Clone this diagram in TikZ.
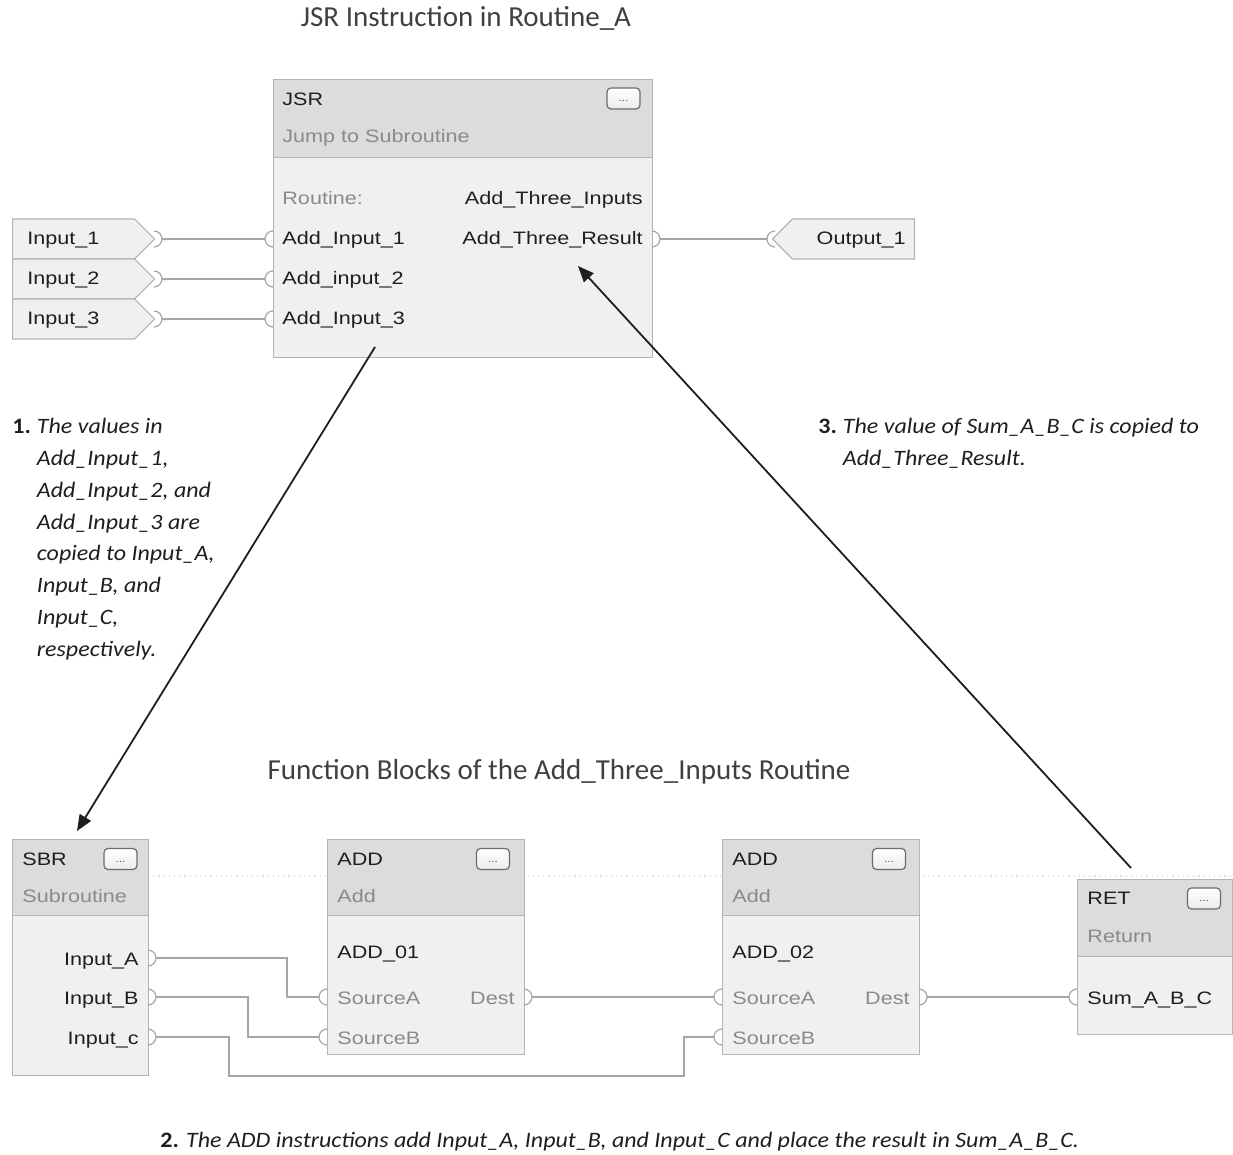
\documentclass[tikz,border=0pt]{standalone}
\usepackage{fontspec}
\setmainfont{Carlito}
\newfontfamily\notefont[FakeStretch=1.09]{Carlito}
\newfontfamily\plcfont[FakeStretch=1.2]{Liberation Sans}
\usetikzlibrary{arrows.meta,positioning,shapes.symbols}
\definecolor{hdrgray}{HTML}{DCDCDC}
\definecolor{bodygray}{HTML}{F0F0F0}
\definecolor{edgegray}{HTML}{B4B4B4}
\definecolor{wiregray}{HTML}{A6A6A6}
\definecolor{dimtext}{HTML}{8A8A8A}
\definecolor{ink}{HTML}{1E1E1E}
\tikzset{
  inpin/.pic={\draw[wire] (0,-8) arc[start angle=-90,end angle=-270,radius=8];},
  outpin/.pic={\draw[wire] (0,-8) arc[start angle=-90,end angle=90,radius=8];}
}
\begin{document}
\begin{tikzpicture}[
  x=0.5pt,y=-0.5pt,
  font=\plcfont\fontsize{9}{10}\selectfont,
  line cap=butt,line join=miter,
  block/.style={draw=edgegray,fill=bodygray,line width=.6pt,anchor=north west,inner sep=0pt},
  header/.style={block,fill=hdrgray},
  btn/.style={draw=gray!85!black,top color=white,bottom color=gray!15,line width=.6pt,rounded corners=2pt,
              minimum width=16.5pt,minimum height=10.5pt,inner sep=0pt,text=ink!75,
              font=\plcfont\fontsize{5}{5}\selectfont},
  lbl/.style={anchor=base west,inner sep=0pt,text=ink},
  rlbl/.style={lbl,anchor=base east},
  dim/.style={lbl,text=dimtext},
  tagin/.style={signal,signal to=east,draw=edgegray,fill=bodygray,line width=.6pt,
                minimum width=71pt,minimum height=20pt,inner sep=0pt,anchor=west},
  tagout/.style={tagin,signal to=west},
  wire/.style={draw=wiregray,line width=.6pt},
  note/.style={anchor=north west,inner sep=0pt,font=\notefont\fontsize{11}{15.9}\selectfont,text=ink},
  title/.style={inner sep=0pt,font=\fontsize{14.5}{16}\selectfont,text=ink!85},
  callout/.style={-{Triangle[length=8pt,width=6.5pt]},line width=.9pt,draw=ink}
]
\useasboundingbox (0,0) rectangle (1233,1155);
\draw[gray!25,dotted,line width=.6pt] (148,876) -- (1233,876);

\node[title,anchor=base] (title1) at (466,27) {JSR Instruction in Routine\_A};
\node[title,anchor=base] (title2) at (559,779) {Function Blocks of the Add\_Three\_Inputs Routine};

% JSR
\node[block,minimum width=189.5pt,minimum height=139pt] (jsr) at (273,79) {};
\node[header,minimum width=189.5pt,minimum height=39pt] (jsr-hd) at (273,79) {};
\node[btn] (jsr-btn) at (623.5,98.5) {\raisebox{-3pt}{...}};
\node[lbl] (jsr-name) at (282,106) {JSR};
\node[dim] (jsr-desc) at (282,143) {Jump to Subroutine};
\node[dim] (jsr-rt) at (282,205) {Routine:};
\node[rlbl] (jsr-rtname) at (643,205) {Add\_Three\_Inputs};
\node[lbl] (jsr-p1) at (282,245) {Add\_Input\_1};
\node[lbl] (jsr-p2) at (282,285) {Add\_input\_2};
\node[lbl] (jsr-p3) at (282,325) {Add\_Input\_3};
\node[rlbl] (jsr-res) at (643,245) {Add\_Three\_Result};

\node[tagin] (tag-in1) at (12,239) {};
\node[tagin] (tag-in2) at (12,279) {};
\node[tagin] (tag-in3) at (12,319) {};
\node[lbl] at (27,245) {Input\_1};
\node[lbl] at (27,285) {Input\_2};
\node[lbl] at (27,325) {Input\_3};
\node[tagout,anchor=east] (tag-out1) at (915,239) {};
\node[rlbl] at (906,245) {Output\_1};

\foreach \y/\n in {239/1,279/2,319/3}{
  \pic at (154,\y) {outpin};
  \pic at (273,\y) {inpin};
  \coordinate (tin\n) at (162,\y);
  \coordinate (jin\n) at (265,\y);
  \draw[wire] (tin\n) -- (jin\n);
}
\pic at (652,239) {outpin};
\pic at (775,239) {inpin};
\coordinate (jout) at (660,239);
\coordinate (tout) at (767,239);
\draw[wire] (jout) -- (tout);

% SBR
\node[block,minimum width=68pt,minimum height=118pt] (sbr) at (12,839) {};
\node[header,minimum width=68pt,minimum height=38pt] (sbr-hd) at (12,839) {};
\node[btn] (sbr-btn) at (120.5,859) {\raisebox{-3pt}{...}};
\node[lbl] (sbr-name) at (22,865) {SBR};
\node[dim] (sbr-desc) at (22,902) {Subroutine};
\node[rlbl] (sbr-a) at (139,965) {Input\_A};
\node[rlbl] (sbr-b) at (139,1004) {Input\_B};
\node[rlbl] (sbr-c) at (139,1044) {Input\_c};

% ADD_01
\node[block,minimum width=98.5pt,minimum height=107.5pt] (add1) at (327,839) {};
\node[header,minimum width=98.5pt,minimum height=38pt] (add1-hd) at (327,839) {};
\node[btn] (add1-btn) at (493,859) {\raisebox{-3pt}{...}};
\node[lbl] (add1-name) at (337,865) {ADD};
\node[dim] (add1-desc) at (337,902) {Add};
\node[lbl] (add1-tag) at (337,958) {ADD\_01};
\node[dim] (add1-sa) at (337,1004) {SourceA};
\node[dim] (add1-sb) at (337,1044) {SourceB};
\node[dim,anchor=base east] (add1-dest) at (515,1004) {Dest};

% ADD_02
\node[block,minimum width=98.5pt,minimum height=107.5pt] (add2) at (722,839) {};
\node[header,minimum width=98.5pt,minimum height=38pt] (add2-hd) at (722,839) {};
\node[btn] (add2-btn) at (889,859) {\raisebox{-3pt}{...}};
\node[lbl] (add2-name) at (732,865) {ADD};
\node[dim] (add2-desc) at (732,902) {Add};
\node[lbl] (add2-tag) at (732,958) {ADD\_02};
\node[dim] (add2-sa) at (732,1004) {SourceA};
\node[dim] (add2-sb) at (732,1044) {SourceB};
\node[dim,anchor=base east] (add2-dest) at (910,1004) {Dest};

% RET
\node[block,minimum width=77.5pt,minimum height=77.5pt] (ret) at (1077,879) {};
\node[header,minimum width=77.5pt,minimum height=38.5pt] (ret-hd) at (1077,879) {};
\node[btn] (ret-btn) at (1204,898.5) {\raisebox{-3pt}{...}};
\node[lbl] (ret-name) at (1087,904) {RET};
\node[dim] (ret-desc) at (1087,942) {Return};
\node[lbl] (ret-sum) at (1087,1004) {Sum\_A\_B\_C};

\foreach \y/\n in {958/a,997/b,1037/c}{
  \pic at (148,\y) {outpin};
  \coordinate (so\n) at (156,\y);
}
\foreach \x/\n in {327/1,722/2}{
  \pic at (\x,997) {inpin};
  \pic at (\x,1037) {inpin};
  \pic at (\x+197,997) {outpin};
  \coordinate (a\n-ia) at (\x-8,997);
  \coordinate (a\n-ib) at (\x-8,1037);
  \coordinate (a\n-o) at (\x+205,997);
}
\pic at (1077,997) {inpin};
\coordinate (ret-i) at (1069,997);

\draw[wire] (soa) -| (287,997) -- (a1-ia);
\draw[wire] (sob) -| (248,1037) -- (a1-ib);
\draw[wire] (soc) -| (229,1076) -| (684,1037) -- (a2-ib);
\draw[wire] (a1-o) -- (a2-ia);
\draw[wire] (a2-o) -- (ret-i);

% callouts
\coordinate (c1-from) at (375,347);
\coordinate (c1-to) at (77,831);
\coordinate (c3-from) at (1131,868);
\coordinate (c3-to) at (578,266);
\draw[callout] (c1-from) -- (c1-to);
\draw[callout] (c3-from) -- (c3-to);

\node[note] (note1) at (12,411) {\begin{tabular}{@{}l@{\hspace{3pt}}l@{}}
  \textbf{1.} & \itshape The values in\\
  & \itshape Add\_Input\_1,\\
  & \itshape Add\_Input\_2, and\\
  & \itshape Add\_Input\_3 are\\
  & \itshape copied to Input\_A,\\
  & \itshape Input\_B, and\\
  & \itshape Input\_C,\\
  & \itshape respectively.
\end{tabular}};
\node[note] (note3) at (818,411) {\begin{tabular}{@{}l@{\hspace{3pt}}l@{}}
  \textbf{3.} & \itshape The value of Sum\_A\_B\_C is copied to\\
  & \itshape Add\_Three\_Result.
\end{tabular}};
\node[note,anchor=base west] (note2) at (160,1147) {\textbf{2.} \itshape The ADD instructions add Input\_A, Input\_B, and Input\_C and place the result in Sum\_A\_B\_C.};
\end{tikzpicture}
\end{document}
